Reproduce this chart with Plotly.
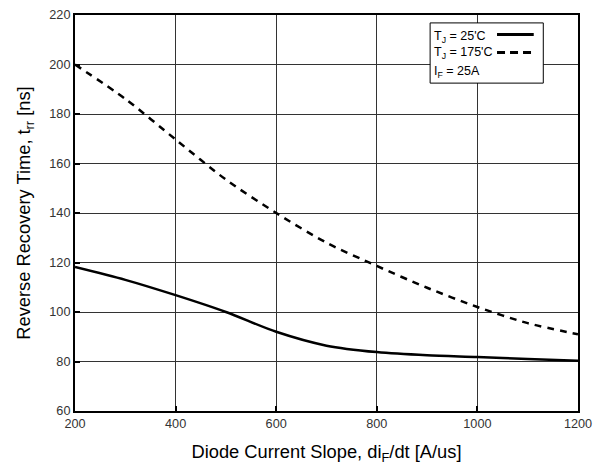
import plotly.graph_objects as go

x_vals = [200, 300, 400, 500, 600, 700, 800, 900, 1000, 1100, 1200]
trr_25C = [118.2, 113.0, 106.8, 100.0, 92.0, 86.4, 83.8, 82.5, 81.8, 81.0, 80.3]
trr_175C = [200.0, 186.1, 169.7, 153.5, 140.0, 128.0, 118.6, 109.8, 102.0, 95.5, 91.0]
x_ticks = [200, 400, 600, 800, 1000, 1200]
y_ticks = [60, 80, 100, 120, 140, 160, 180, 200, 220]

FONT = "Liberation Sans, Arial, sans-serif"

fig = go.Figure()
fig.add_trace(go.Scatter(x=x_vals, y=trr_25C, mode="lines", line=dict(color="black", width=2.5, shape="spline", smoothing=0.8),
                         name="T<sub>J</sub> = 25'C", showlegend=False, cliponaxis=False))
fig.add_trace(go.Scatter(x=x_vals, y=trr_175C, mode="lines", line=dict(color="black", width=2.5, dash="7px,6px", shape="spline", smoothing=0.8),
                         name="T<sub>J</sub> = 175'C", showlegend=False, cliponaxis=False))

axis_common = dict(showline=True, linecolor="black", linewidth=2, mirror=True,
                   showgrid=True, gridcolor="#333333", gridwidth=1,
                   ticks="inside", ticklen=5, tickwidth=2, tickcolor="black",
                   zeroline=False, automargin=False,
                   tickfont=dict(family=FONT, size=12.7, color="#333333"))

fig.update_xaxes(range=[200, 1200], tickvals=x_ticks,
                 title=dict(text="Diode Current Slope, di<sub>F</sub>/dt [A/us]", font=dict(family=FONT, size=18.3, color="black"), standoff=15),
                 **axis_common)
fig.update_yaxes(range=[60, 220], tickvals=y_ticks,
                 title=dict(text="Reverse Recovery Time, t<sub>rr</sub> [ns]", font=dict(family=FONT, size=18.3, color="black"), standoff=14),
                 **axis_common)

# Manual legend box (text left, line sample right)
fig.add_shape(type="rect", xref="paper", yref="paper", x0=0.706, x1=0.931, y0=0.828, y1=0.98,
              line=dict(color="black", width=1), fillcolor="white", layer="above")
fig.add_shape(type="line", xref="paper", yref="paper", x0=0.839, x1=0.912, y0=0.951, y1=0.951,
              line=dict(color="black", width=3), layer="above")
fig.add_shape(type="line", xref="paper", yref="paper", x0=0.839, x1=0.912, y0=0.905, y1=0.905,
              line=dict(color="black", width=3, dash="8px,5px"), layer="above")
for txt, yy in [("T<sub>J</sub> = 25'C", 0.945), ("T<sub>J</sub> = 175'C", 0.903), ("I<sub>F</sub> = 25A", 0.857)]:
    fig.add_annotation(text=txt, xref="paper", yref="paper", x=0.71, y=yy, xanchor="left", yanchor="middle",
                       showarrow=False, font=dict(family=FONT, size=12.5, color="black"))

# page body has an 8px margin, so the figure is sized/offset to compensate
fig.update_layout(width=597, height=462, margin=dict(l=67, r=27, t=7, b=59, autoexpand=False),
                  plot_bgcolor="white", paper_bgcolor="white", showlegend=False)

fig.write_html("out.html")
